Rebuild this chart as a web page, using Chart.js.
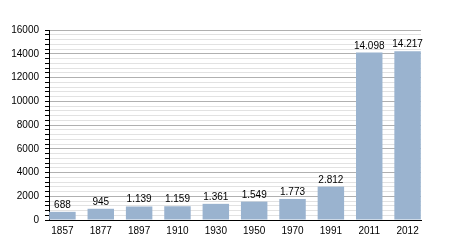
<!DOCTYPE html>
<html>
<head>
<meta charset="utf-8">
<script src="https://cdn.jsdelivr.net/npm/chart.js@4"></script>
<style>
  html, body { margin: 0; padding: 0; background: #fff; }
  #wrap { width: 450px; height: 250px; }
</style>
</head>
<body>
<div id="wrap"><canvas id="pop-chart"></canvas></div>
<script>
// Define the data
var years = ["1857", "1877", "1897", "1910", "1930", "1950", "1970", "1991", "2011", "2012"];
var population = [688, 945, 1139, 1159, 1361, 1549, 1773, 2812, 14098, 14217];
var yMax = 16000;
var yMajorStep = 2000;
var yMinorStep = 400;
// End Defining data

// german style thousands separator
function fmt(v) {
  return String(v).replace(/\B(?=(\d{3})+(?!\d))/g, ".");
}

// bars sit on an index axis so first/last bar touch the plot edges
var points = population.map(function (v, i) { return { x: i, y: v }; });

// write the value above each bar
var valueLabels = {
  id: "valueLabels",
  afterDatasetsDraw: function (chart) {
    var ctx = chart.ctx;
    var meta = chart.getDatasetMeta(0);
    ctx.save();
    ctx.font = "10px 'Liberation Sans', Arial, sans-serif";
    ctx.fillStyle = "#000";
    ctx.textAlign = "center";
    ctx.textBaseline = "alphabetic";
    meta.data.forEach(function (bar, i) {
      ctx.fillText(fmt(population[i]), bar.x, bar.y - 4);
    });
    ctx.restore();
  }
};

Chart.defaults.font.family = "'Liberation Sans', Arial, sans-serif";
Chart.defaults.font.size = 10;
Chart.defaults.color = "#000";

var ctx = document.getElementById("pop-chart").getContext("2d");
var myChart = new Chart(ctx, {
  type: "bar",
  data: {
    datasets: [
      {
        label: "Population",
        data: points,
        backgroundColor: "#9ab3cf",
        borderWidth: 0,
        barPercentage: 0.69,
        categoryPercentage: 1
      }
    ]
  },
  options: {
    responsive: true,
    maintainAspectRatio: false,
    animation: false,
    layout: { padding: { top: 30, right: 29, left: 0, bottom: 0 } },
    plugins: {
      legend: { display: false },
      tooltip: { enabled: false }
    },
    scales: {
      x: {
        type: "linear",
        offset: false,
        min: -0.35,
        max: years.length - 1 + 0.35,
        grid: { display: false, drawTicks: false },
        border: { color: "#000", width: 1 },
        ticks: {
          padding: 5,
          maxRotation: 0,
          autoSkip: false,
          callback: function (v) { return years[v]; }
        },
        afterBuildTicks: function (scale) {
          scale.ticks = years.map(function (y, i) { return { value: i }; });
        },
        afterFit: function (scale) { scale.height = 30; }
      },
      y: {
        min: 0,
        max: yMax,
        border: { color: "#000", width: 1 },
        grid: {
          color: function (c) {
            return c.tick && c.tick.value % yMajorStep === 0 ? "#b0b0b0" : "#e2e2e2";
          },
          tickColor: "#000",
          tickLength: 4
        },
        ticks: {
          stepSize: yMinorStep,
          autoSkip: false,
          padding: 6,
          callback: function (v) { return v % yMajorStep === 0 ? v : ""; }
        },
        afterFit: function (scale) { scale.width = 49; }
      }
    }
  },
  plugins: [valueLabels]
});
</script>
</body>
</html>
